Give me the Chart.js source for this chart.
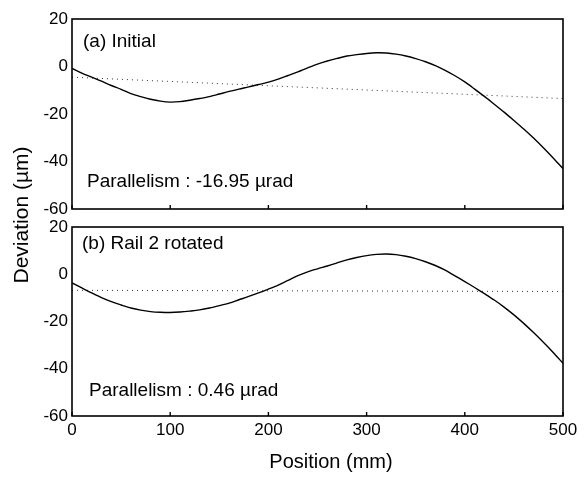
<!DOCTYPE html>
<html>
<head>
<meta charset="utf-8">
<script src="https://cdn.jsdelivr.net/npm/chart.js@4"></script>
<style>
  html, body { margin: 0; padding: 0; background: #ffffff; }
  #wrap { position: relative; width: 586px; height: 478px; }
  canvas { position: absolute; left: 0; top: 0; }
</style>
</head>
<body>
<div id="wrap">
  <canvas id="c1" width="586" height="478"></canvas>
  <canvas id="c2" width="586" height="478"></canvas>
</div>
<script>
// ---- data ----
const positions = [0,10,20,30,40,50,60,70,80,90,100,110,120,130,140,150,160,170,180,190,200,
  210,220,230,240,250,260,270,280,290,300,310,320,330,340,350,360,370,380,390,400,
  410,420,430,440,450,460,470,480,490,500];
const initialDeviation = [-0.8,-2.8,-4.5,-6.2,-8.0,-9.6,-11.4,-12.7,-13.8,-14.6,-15.0,
  -14.8,-14.2,-13.5,-12.7,-11.6,-10.5,-9.5,-8.6,-7.6,-6.6,
  -5.3,-3.8,-2.3,-0.6,1.0,2.3,3.4,4.4,5.0,5.5,
  5.8,5.7,5.2,4.4,3.3,2.0,0.4,-1.6,-3.9,-6.5,
  -9.5,-12.6,-15.9,-19.2,-22.7,-26.3,-30.1,-34.2,-38.5,-43.0];
const rotatedDeviation = [-3.7,-5.8,-7.9,-9.9,-11.6,-13.0,-14.3,-15.2,-15.8,-16.1,-16.2,
  -16.0,-15.6,-15.1,-14.3,-13.3,-12.2,-10.8,-9.4,-7.9,-6.3,
  -4.6,-2.6,-0.6,1.0,2.3,3.5,4.8,6.1,7.1,7.9,
  8.4,8.6,8.3,7.6,6.6,5.3,3.7,1.7,-0.7,-3.1,
  -5.6,-8.2,-10.9,-13.9,-17.2,-20.8,-24.7,-28.8,-33.1,-37.7];
const fitX = [0, 500];
const initialFit = [-4.5, -13.5];
const rotatedFit = [-6.8, -7.3];
const panelTitles = ['(a) Initial', '(b) Rail 2 rotated'];
const parallelismLabels = ['Parallelism : -16.95 \u00B5rad', 'Parallelism : 0.46 \u00B5rad'];
const xTitle = 'Position (mm)';
const yTitle = 'Deviation (\u00B5m)';
const yMin = -60, yMax = 20, yStep = 20;
const xMin = 0, xMax = 500, xStep = 100;

const FONT = '"Liberation Sans", Arial, Helvetica, sans-serif';

function pts(xs, ys) { return xs.map((x, i) => ({ x: x, y: ys[i] })); }

function framePlugin(texts) {
  return {
    id: 'frame',
    afterDatasetsDraw(chart) {
      const { ctx, chartArea: a } = chart;
      const xs = chart.scales.x;
      ctx.save();
      ctx.strokeStyle = '#000';
      ctx.lineWidth = 1.6;
      ctx.strokeRect(a.left, a.top, a.right - a.left, a.bottom - a.top);
      ctx.lineWidth = 1.4;
      xs.ticks.forEach(t => {
        const px = xs.getPixelForValue(t.value);
        ctx.beginPath();
        ctx.moveTo(px, a.bottom);
        ctx.lineTo(px, a.bottom - 4);
        ctx.stroke();
      });
      ctx.fillStyle = '#000';
      texts.forEach(t => {
        ctx.save();
        ctx.font = t.size + 'px ' + FONT;
        ctx.textAlign = t.align || 'left';
        ctx.textBaseline = 'alphabetic';
        ctx.translate(t.x, t.y);
        if (t.rot) ctx.rotate(t.rot);
        ctx.fillText(t.text, 0, 0);
        ctx.restore();
      });
      ctx.restore();
    }
  };
}

function makeChart(id, curve, fit, pad, showXLabels, texts) {
  return new Chart(document.getElementById(id), {
    type: 'line',
    data: {
      datasets: [
        { data: pts(positions, curve), borderColor: '#000', borderWidth: 1.4,
          pointRadius: 0, tension: 0.3, fill: false },
        { data: pts(fitX, fit), borderColor: '#333', borderWidth: 1,
          borderDash: [1, 4], pointRadius: 0, fill: false }
      ]
    },
    options: {
      responsive: false,
      animation: false,
      devicePixelRatio: 1,
      layout: { padding: pad },
      plugins: { legend: { display: false }, tooltip: { enabled: false } },
      scales: {
        x: {
          type: 'linear', min: xMin, max: xMax,
          ticks: { display: showXLabels, stepSize: xStep, color: '#000',
                   font: { family: FONT, size: 17 }, padding: 4, maxRotation: 0 },
          grid: { display: false, drawTicks: false },
          border: { display: false },
          afterFit: (axis) => { axis.height = showXLabels ? 30 : 0; }
        },
        y: {
          min: yMin, max: yMax,
          ticks: { stepSize: yStep, color: '#000', font: { family: FONT, size: 17 }, padding: 4 },
          grid: { display: false, drawTicks: false },
          border: { display: false },
          afterFit: (axis) => { axis.width = 72; }
        }
      }
    },
    plugins: [framePlugin(texts)]
  });
}

makeChart('c1', initialDeviation, initialFit,
  { left: 0, right: 23, top: 19, bottom: 478 - 209 }, false,
  [
    { text: panelTitles[0], x: 83, y: 47, size: 19 },
    { text: parallelismLabels[0], x: 87, y: 187, size: 19 }
  ]);

makeChart('c2', rotatedDeviation, rotatedFit,
  { left: 0, right: 23, top: 227, bottom: 478 - 416 - 30 }, true,
  [
    { text: panelTitles[1], x: 82, y: 249, size: 19 },
    { text: parallelismLabels[1], x: 89, y: 396, size: 19 },
    { text: xTitle, x: 331, y: 468, size: 20, align: 'center' },
    { text: yTitle, x: 28, y: 215, size: 21, align: 'center', rot: -Math.PI / 2 }
  ]);
</script>
</body>
</html>
